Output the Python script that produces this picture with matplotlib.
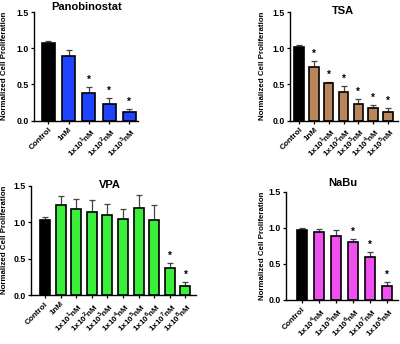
import matplotlib
matplotlib.use("Agg")
import matplotlib.pyplot as plt

plt.rcParams['font.family'] = ['Liberation Sans', 'DejaVu Sans']
plt.rcParams['mathtext.fontset'] = 'custom'
plt.rcParams['mathtext.rm'] = 'Liberation Sans'
plt.rcParams['mathtext.bf'] = 'Liberation Sans:bold'

# ---- data ----
pano_labels = ['Control', '1nM', r'1x10$^\mathbf{1}$nM', r'1x10$^\mathbf{2}$nM', r'1x10$^\mathbf{3}$nM']
pano_mean = [1.08, 0.90, 0.38, 0.23, 0.115]
pano_err = [0.025, 0.085, 0.085, 0.085, 0.045]
pano_sig = [False, False, True, True, True]

tsa_labels = ['Control', '1nM'] + [r'1x10$^\mathbf{%d}$nM' % i for i in range(1, 6)]
tsa_mean = [1.02, 0.745, 0.515, 0.40, 0.235, 0.167, 0.112]
tsa_err = [0.025, 0.08, 0.022, 0.077, 0.07, 0.055, 0.063]
tsa_sig = [False, True, True, True, True, True, True]

vpa_labels = ['Control', '1nM'] + [r'1x10$^\mathbf{%d}$nM' % i for i in range(1, 9)]
vpa_mean = [1.03, 1.235, 1.19, 1.14, 1.095, 1.05, 1.20, 1.03, 0.37, 0.127]
vpa_err = [0.045, 0.13, 0.135, 0.17, 0.155, 0.14, 0.18, 0.205, 0.07, 0.05]
vpa_sig = [False] * 8 + [True, True]

nabu_labels = ['Control'] + [r'1x10$^\mathbf{%d}$nM' % i for i in range(4, 9)]
nabu_mean = [0.977, 0.949, 0.893, 0.81, 0.602, 0.20]
nabu_err = [0.028, 0.037, 0.079, 0.033, 0.06, 0.055]
nabu_sig = [False, False, False, True, True, True]

W, H = 400, 344
fig = plt.figure(figsize=(4, 3.44), dpi=100)


def panel(rect, labels, mean, err, sig, color, xlim, width, title, title_xy, ylab_xy):
    ax = fig.add_axes(rect)
    x = list(range(len(mean)))
    colors = ['black'] + [color] * (len(mean) - 1)
    ax.bar(x, mean, width=width, color=colors, edgecolor='black', linewidth=1.2, zorder=2)
    ax.errorbar(x, mean, yerr=[[0] * len(err), err], fmt='none', ecolor='#444444',
                elinewidth=0.9, capsize=2.2, capthick=0.9, zorder=1)
    for xi, m, e, s in zip(x, mean, err, sig):
        if s:
            ax.annotate('*', (xi, m + e), xytext=(0, 1.5), textcoords='offset points',
                        ha='center', va='bottom', fontsize=7, fontweight='bold')
    ax.set_xlim(*xlim)
    ax.set_ylim(0, 1.5)
    ax.set_yticks([0, 0.5, 1.0, 1.5])
    ax.set_yticklabels(['0.0', '0.5', '1.0', '1.5'], fontsize=6.3, fontweight='bold')
    ax.set_xticks(x)
    ax.set_xticklabels(labels, rotation=45, ha='right', rotation_mode='anchor',
                       fontsize=5.9, fontweight='bold')
    ax.tick_params(axis='both', length=2.5, width=0.9, pad=1.5)
    for sp in ['top', 'right']:
        ax.spines[sp].set_visible(False)
    for sp in ['left', 'bottom']:
        ax.spines[sp].set_linewidth(1.0)
    fig.text(title_xy[0] / W, 1 - title_xy[1] / H, title, ha='center', va='center',
             fontsize=8, fontweight='bold')
    fig.text(ylab_xy[0] / W, 1 - ylab_xy[1] / H, 'Normalized Cell Proliferation',
             rotation=90, ha='center', va='center', fontsize=5.7, fontweight='bold')
    return ax


panel([0.085, 0.6497, 0.26, 0.314], pano_labels, pano_mean, pano_err, pano_sig,
      '#1e44ff', (-0.71, 4.43), 0.64, 'Panobinostat', (87, 7), (5, 66))
panel([0.725, 0.6497, 0.27, 0.314], tsa_labels, tsa_mean, tsa_err, tsa_sig,
      '#b8865a', (-0.62, 6.68), 0.64, 'TSA', (343, 11), (262, 66))
panel([0.0775, 0.1424, 0.4125, 0.317], vpa_labels, vpa_mean, vpa_err, vpa_sig,
      '#3cee3c', (-0.9, 9.68), 0.64, 'VPA', (110, 185), (5, 240))
panel([0.715, 0.128, 0.28, 0.314], nabu_labels, nabu_mean, nabu_err, nabu_sig,
      '#f050f0', (-0.94, 5.65), 0.6, 'NaBu', (343, 183), (262, 246))

fig.savefig('out.png', dpi=100)
